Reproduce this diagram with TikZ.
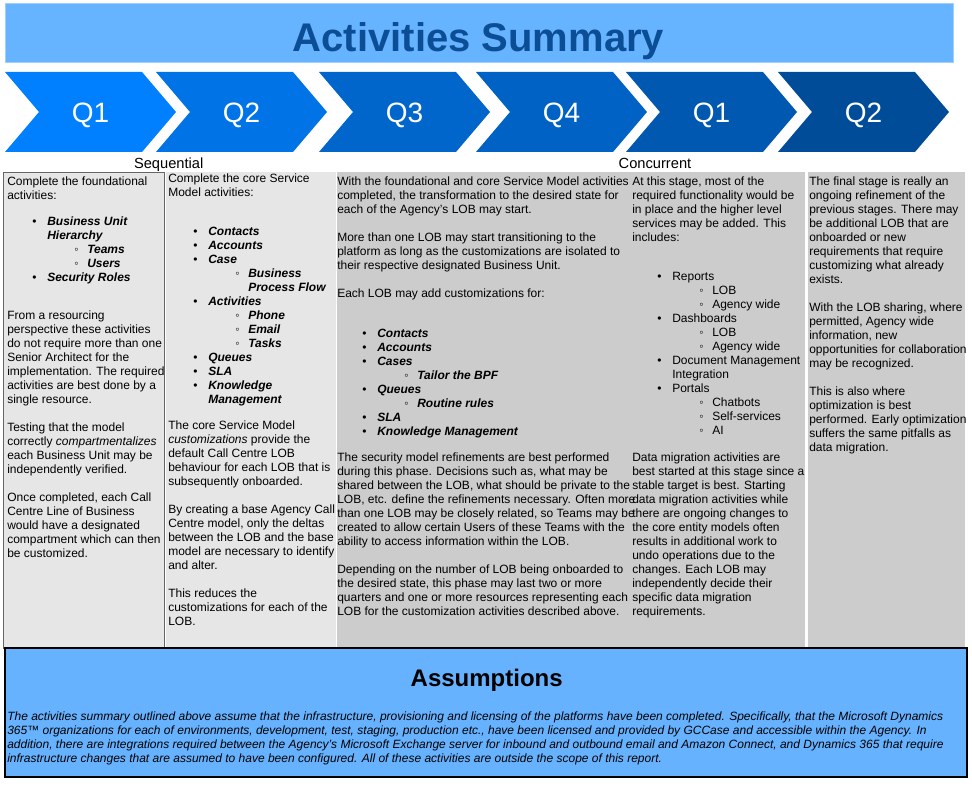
\documentclass[tikz,border=0pt]{standalone}
\usepackage{fontspec}
\setmainfont{Liberation Sans}
\usepackage{xcolor}
\usepackage{tikz}
\definecolor{titleFill}{RGB}{102,179,255}
\definecolor{titleEdge}{RGB}{160,208,255}
\definecolor{titleText}{RGB}{12,78,150}
\definecolor{chevA}{RGB}{0,128,255}
\definecolor{chevB}{RGB}{0,115,230}
\definecolor{chevC}{RGB}{0,102,204}
\definecolor{chevD}{RGB}{0,98,196}
\definecolor{chevE}{RGB}{0,88,176}
\definecolor{chevF}{RGB}{0,76,153}
\definecolor{colLight}{RGB}{230,230,230}
\definecolor{colDark}{RGB}{204,204,204}
\definecolor{noteFill}{RGB}{102,178,255}
\newcommand\emb[1]{\textbf{\textit{#1}}}
\newcommand\itA[1]{\hspace*{18.75pt}\makebox[11.25pt][l]{\textbullet}#1}
\newcommand\itB[1]{\hspace*{50.25pt}\makebox[9.75pt][l]{◦}#1}
\newcommand\coA[1]{\hspace*{30pt}#1}
\newcommand\coB[1]{\hspace*{60pt}#1}

\begin{document}
\begin{tikzpicture}[x=0.75pt,y=-0.75pt,
  txt/.style={anchor=north west,inner sep=0pt,align=left,font=\fontsize{9}{10.5}\selectfont},
  qlab/.style={anchor=base,inner sep=0pt,text=white,font=\fontsize{21}{25}\selectfont},
  phase/.style={anchor=base,inner sep=0pt,font=\fontsize{11}{13}\selectfont}]
  \useasboundingbox (0,0) rectangle (972,799);
  \draw[fill=titleFill,draw=titleEdge] (5,3) rectangle (953,62);
  \node[anchor=base,inner sep=0pt,text=titleText,font=\fontsize{30}{36}\selectfont\bfseries] (title) at (478.5,51.5) {Activities Summary};
  \foreach \l/\q/\c [count=\i] in {5/Q1/chevA,156/Q2/chevB,319/Q3/chevC,476/Q4/chevD,626/Q1/chevE,778/Q2/chevF} {
    \fill[\c] (\l,72) -- ++(137,0) -- ++(34,40) -- ++(-34,40) -- ++(-137,0) -- ++(34,-40) -- cycle;
    \node[qlab] (q\i) at (\l+85.5,122.8) {\q};
  }
  \node[phase] (seq) at (168.7,168.5) {Sequential};
  \node[phase] (conc) at (655,168.5) {Concurrent};
  \draw[fill=colLight,draw=black!60] (3,172) rectangle (164,648);
  \fill[colLight] (166,172) rectangle (336,648);
  \fill[colDark] (337,172) rectangle (805,648);
  \fill[colDark] (808,172) rectangle (965,648);
  \node[txt] (c1a) at (7,175.9) {\strut Complete the foundational\\activities:};
  \node[txt] (c1l) at (7,215.9) {\strut\itA{\emb{Business Unit}}\\
    \coA{\emb{Hierarchy}}\\
    \itB{\emb{Teams}}\\
    \itB{\emb{Users}}\\
    \itA{\emb{Security Roles}}};
  \node[txt] (c1b) at (7,309.9) {\strut From a resourcing\\perspective these activities\\do not require more than one\\Senior Architect for the\\implementation. The required\\activities are best done by a\\single resource.\\[10.5pt]
    Testing that the model\\correctly \textit{compartmentalizes}\\each Business Unit may be\\independently verified.\\[10.5pt]
    Once completed, each Call\\Centre Line of Business\\would have a designated\\compartment which can then\\be customized.};
  \node[txt] (c2a) at (168,172.5) {\strut Complete the core Service\\Model activities:};
  \node[txt] (c2l) at (168,225.9) {\strut\itA{\emb{Contacts}}\\
    \itA{\emb{Accounts}}\\
    \itA{\emb{Case}}\\
    \itB{\emb{Business}}\\
    \coB{\emb{Process Flow}}\\
    \itA{\emb{Activities}}\\
    \itB{\emb{Phone}}\\
    \itB{\emb{Email}}\\
    \itB{\emb{Tasks}}\\
    \itA{\emb{Queues}}\\
    \itA{\emb{SLA}}\\
    \itA{\emb{Knowledge}}\\
    \coA{\emb{Management}}};
  \node[txt] (c2b) at (168,419.2) {\strut The core Service Model\\\textit{customizations} provide the\\default Call Centre LOB\\behaviour for each LOB that is\\subsequently onboarded.\\[10.5pt]
    By creating a base Agency Call\\Centre model, only the deltas\\between the LOB and the base\\model are necessary to identify\\and alter.\\[10.5pt]
    This reduces the\\customizations for each of the\\LOB.};
  \node[txt] (c3a) at (337,175.9) {\strut With the foundational and core Service Model activities\\completed, the transformation to the desired state for\\each of the Agency's LOB may start.\\[10.5pt]
    More than one LOB may start transitioning to the\\platform as long as the customizations are isolated to\\their respective designated Business Unit.\\[10.5pt]
    Each LOB may add customizations for:};
  \node[txt] (c3l) at (337,327.5) {\strut\itA{\emb{Contacts}}\\
    \itA{\emb{Accounts}}\\
    \itA{\emb{Cases}}\\
    \itB{\emb{Tailor the BPF}}\\
    \itA{\emb{Queues}}\\
    \itB{\emb{Routine rules}}\\
    \itA{\emb{SLA}}\\
    \itA{\emb{Knowledge Management}}};
  \node[txt] (c3b) at (337,451.5) {\strut The security model refinements are best performed\\during this phase. Decisions such as, what may be\\shared between the LOB, what should be private to the\\LOB, etc. define the refinements necessary. Often more\\than one LOB may be closely related, so Teams may be\\created to allow certain Users of these Teams with the\\ability to access information within the LOB.\\[10.5pt]
    Depending on the number of LOB being onboarded to\\the desired state, this phase may last two or more\\quarters and one or more resources representing each\\LOB for the customization activities described above.};
  \node[txt] (c4a) at (632,175.9) {\strut At this stage, most of the\\required functionality would be\\in place and the higher level\\services may be added. This\\includes:};
  \node[txt] (c4l) at (632,270.9) {\strut\itA{Reports}\\
    \itB{LOB}\\
    \itB{Agency wide}\\
    \itA{Dashboards}\\
    \itB{LOB}\\
    \itB{Agency wide}\\
    \itA{Document Management}\\
    \coA{Integration}\\
    \itA{Portals}\\
    \itB{Chatbots}\\
    \itB{Self-services}\\
    \itB{AI}};
  \node[txt] (c4b) at (632,451.9) {\strut Data migration activities are\\best started at this stage since a\\stable target is best. Starting\\data migration activities while\\there are ongoing changes to\\the core entity models often\\results in additional work to\\undo operations due to the\\changes. Each LOB may\\independently decide their\\specific data migration\\requirements.};
  \node[txt] (c5) at (809,175.9) {\strut The final stage is really an\\ongoing refinement of the\\previous stages. There may\\be additional LOB that are\\onboarded or new\\requirements that require\\customizing what already\\exists.\\[10.5pt]
    With the LOB sharing, where\\permitted, Agency wide\\information, new\\opportunities for collaboration\\may be recognized.\\[10.5pt]
    This is also where\\optimization is best\\performed. Early optimization\\suffers the same pitfalls as\\data migration.};
  \draw[fill=noteFill,line width=0.9pt] (5,648) rectangle (967,777);
  \node[anchor=base,inner sep=0pt,font=\fontsize{18}{22}\selectfont\bfseries] (notehead) at (486.7,686.7) {Assumptions};
  \node[txt,font=\fontsize{9}{10.5}\selectfont\itshape] (notetext) at (7,710.2) {\strut The activities summary outlined above assume that the infrastructure, provisioning and licensing of the platforms have been completed. Specifically, that the Microsoft Dynamics\\365™ organizations for each of environments, development, test, staging, production etc., have been licensed and provided by GCCase and accessible within the Agency. In\\addition, there are integrations required between the Agency's Microsoft Exchange server for inbound and outbound email and Amazon Connect, and Dynamics 365 that require\\infrastructure changes that are assumed to have been configured. All of these activities are outside the scope of this report.};
\end{tikzpicture}
\end{document}
